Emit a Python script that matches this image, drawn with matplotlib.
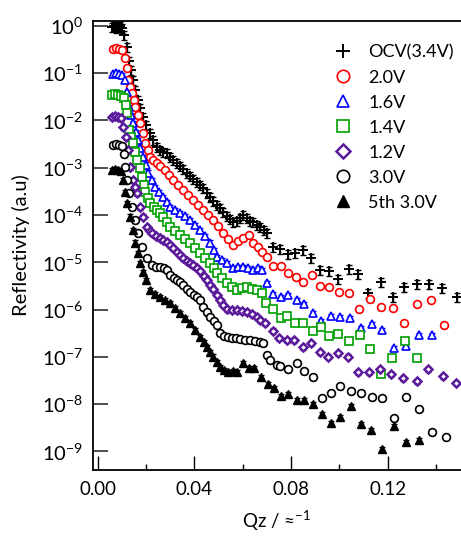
import numpy as np
from matplotlib import pyplot as plt
from matplotlib.ticker import FixedLocator, NullLocator, FuncFormatter

plt.rcParams['font.family'] = ['Lato', 'DejaVu Sans']
plt.rcParams['mathtext.fontset'] = 'custom'
plt.rcParams['mathtext.rm'] = 'Lato'
plt.rcParams['mathtext.it'] = 'Lato'

# Qz (1/A) and log10(reflectivity)
q_ocv = [0.0059, 0.0067, 0.0076, 0.0084, 0.0092, 0.0101, 0.0109, 0.0121, 0.0130, 0.0138,
         0.0146, 0.0154, 0.0167, 0.0175, 0.0187, 0.0200, 0.0216, 0.0229, 0.0245, 0.0258,
         0.0270, 0.0287, 0.0299, 0.0312, 0.0328, 0.0340, 0.0353, 0.0369, 0.0382, 0.0394,
         0.0411, 0.0423, 0.0436, 0.0452, 0.0464, 0.0477, 0.0494, 0.0506, 0.0518, 0.0535,
         0.0547, 0.0560, 0.0576, 0.0589, 0.0601, 0.0618, 0.0630, 0.0643, 0.0659, 0.0671,
         0.0688, 0.0700, 0.0725, 0.0754, 0.0787, 0.0816, 0.0850, 0.0883, 0.0920, 0.0957,
         0.0994, 0.1040, 0.1077, 0.1118, 0.1172, 0.1222, 0.1267, 0.1321, 0.1371, 0.1424,
         0.1487]
logr_ocv = [-0.03, -0.01, -0.05, -0.03, -0.01, -0.05, -0.20, -0.45, -0.75, -0.94,
            -1.15, -1.36, -1.57, -1.74, -1.93, -2.10, -2.27, -2.42, -2.56, -2.63,
            -2.67, -2.69, -2.78, -2.84, -2.90, -2.97, -3.03, -3.11, -3.18, -3.24,
            -3.31, -3.37, -3.43, -3.54, -3.62, -3.71, -3.79, -3.86, -3.94, -4.02,
            -4.09, -4.15, -4.13, -4.07, -4.00, -4.07, -4.13, -4.15, -4.21, -4.26,
            -4.32, -4.38, -4.68, -4.72, -4.83, -4.81, -4.74, -4.91, -5.17, -5.19,
            -5.36, -5.14, -5.25, -5.65, -5.42, -5.74, -5.52, -5.46, -5.46, -5.55,
            -5.74]

q_20 = [0.0063, 0.0076, 0.0088, 0.0101, 0.0113, 0.0121, 0.0125, 0.0134, 0.0142, 0.0150,
        0.0154, 0.0167, 0.0175, 0.0187, 0.0196, 0.0208, 0.0216, 0.0229, 0.0245, 0.0258,
        0.0279, 0.0295, 0.0312, 0.0332, 0.0353, 0.0374, 0.0394, 0.0415, 0.0436, 0.0456,
        0.0477, 0.0498, 0.0518, 0.0539, 0.0560, 0.0581, 0.0601, 0.0626, 0.0643, 0.0663,
        0.0680, 0.0700, 0.0725, 0.0758, 0.0787, 0.0821, 0.0850, 0.0887, 0.0920, 0.0957,
        0.0998, 0.1040, 0.1081, 0.1127, 0.1172, 0.1222, 0.1267, 0.1321, 0.1379, 0.1433]
logr_20 = [-0.49, -0.47, -0.49, -0.51, -0.68, -0.89, -1.15, -1.30, -1.42, -1.57,
           -1.72, -1.89, -2.06, -2.27, -2.48, -2.63, -2.78, -2.84, -2.90, -2.97,
           -3.05, -3.16, -3.26, -3.37, -3.47, -3.58, -3.68, -3.79, -3.90, -4.00,
           -4.11, -4.23, -4.38, -4.51, -4.64, -4.55, -4.49, -4.43, -4.59, -4.68,
           -4.78, -4.89, -5.08, -5.08, -5.23, -5.31, -5.42, -5.27, -5.50, -5.52,
           -5.63, -5.65, -5.99, -5.78, -5.95, -5.97, -6.29, -5.88, -5.80, -6.33]

q_16 = [0.0063, 0.0076, 0.0088, 0.0101, 0.0113, 0.0121, 0.0130, 0.0138, 0.0146, 0.0158,
        0.0167, 0.0175, 0.0187, 0.0200, 0.0208, 0.0225, 0.0237, 0.0254, 0.0270, 0.0287,
        0.0299, 0.0320, 0.0340, 0.0361, 0.0382, 0.0403, 0.0423, 0.0444, 0.0464, 0.0481,
        0.0494, 0.0514, 0.0535, 0.0560, 0.0581, 0.0601, 0.0622, 0.0643, 0.0663, 0.0680,
        0.0700, 0.0725, 0.0758, 0.0787, 0.0825, 0.0854, 0.0891, 0.0924, 0.0965, 0.1003,
        0.1044, 0.1089, 0.1135, 0.1176, 0.1226, 0.1276, 0.1329, 0.1383]
logr_16 = [-1.02, -1.00, -1.02, -1.04, -1.15, -1.40, -1.72, -1.89, -2.06, -2.25,
           -2.42, -2.59, -2.78, -2.94, -3.11, -3.26, -3.41, -3.52, -3.62, -3.73,
           -3.83, -3.90, -3.96, -4.02, -4.11, -4.21, -4.32, -4.45, -4.59, -4.74,
           -4.89, -4.95, -5.02, -5.12, -5.10, -5.10, -5.12, -5.17, -5.12, -5.17,
           -5.44, -5.67, -5.74, -5.69, -5.80, -5.88, -6.07, -6.24, -6.14, -6.16,
           -6.18, -6.39, -6.31, -6.43, -6.81, -6.77, -6.54, -6.54]

q_14 = [0.0059, 0.0071, 0.0084, 0.0096, 0.0109, 0.0117, 0.0121, 0.0130, 0.0138, 0.0146,
        0.0154, 0.0163, 0.0175, 0.0183, 0.0191, 0.0196, 0.0208, 0.0216, 0.0233, 0.0245,
        0.0258, 0.0270, 0.0287, 0.0299, 0.0320, 0.0340, 0.0361, 0.0382, 0.0403, 0.0423,
        0.0444, 0.0464, 0.0481, 0.0494, 0.0514, 0.0535, 0.0556, 0.0576, 0.0597, 0.0618,
        0.0639, 0.0659, 0.0680, 0.0696, 0.0725, 0.0758, 0.0783, 0.0816, 0.0850, 0.0891,
        0.0924, 0.0957, 0.0994, 0.1040, 0.1085, 0.1127, 0.1172, 0.1217, 0.1271, 0.1321]
logr_14 = [-1.47, -1.44, -1.47, -1.49, -1.53, -1.68, -1.85, -2.20, -2.35, -2.48,
           -2.67, -2.84, -3.01, -3.20, -3.37, -3.52, -3.65, -3.75, -3.83, -3.90,
           -3.96, -4.04, -4.15, -4.26, -4.34, -4.43, -4.51, -4.59, -4.70, -4.81,
           -4.91, -5.02, -5.12, -5.23, -5.33, -5.44, -5.52, -5.59, -5.55, -5.52,
           -5.57, -5.59, -5.65, -5.86, -5.99, -6.18, -6.14, -6.29, -6.29, -6.45,
           -6.37, -6.56, -6.52, -6.67, -6.54, -6.84, -7.37, -7.03, -6.67, -7.03]

q_12 = [0.0059, 0.0071, 0.0084, 0.0096, 0.0105, 0.0117, 0.0125, 0.0134, 0.0146, 0.0154,
        0.0163, 0.0175, 0.0187, 0.0204, 0.0216, 0.0225, 0.0241, 0.0258, 0.0270, 0.0287,
        0.0299, 0.0312, 0.0328, 0.0340, 0.0353, 0.0369, 0.0382, 0.0394, 0.0411, 0.0423,
        0.0440, 0.0452, 0.0464, 0.0477, 0.0494, 0.0506, 0.0518, 0.0535, 0.0556, 0.0576,
        0.0597, 0.0618, 0.0639, 0.0659, 0.0671, 0.0692, 0.0725, 0.0750, 0.0783, 0.0812,
        0.0850, 0.0883, 0.0920, 0.0953, 0.0994, 0.1036, 0.1077, 0.1123, 0.1168, 0.1213,
        0.1263, 0.1321, 0.1367, 0.1429, 0.1482]
logr_12 = [-1.93, -1.91, -1.93, -1.95, -2.14, -2.35, -2.63, -2.99, -3.26, -3.41,
           -3.54, -3.83, -4.04, -4.26, -4.34, -4.38, -4.45, -4.49, -4.53, -4.57,
           -4.64, -4.70, -4.78, -4.85, -4.91, -4.98, -5.02, -5.06, -5.12, -5.19,
           -5.29, -5.38, -5.48, -5.57, -5.69, -5.80, -5.90, -5.99, -6.01, -6.01,
           -6.03, -6.05, -6.10, -6.16, -6.22, -6.29, -6.45, -6.60, -6.65, -6.65,
           -6.79, -6.71, -6.90, -7.00, -6.92, -7.00, -7.32, -7.32, -7.26, -7.37,
           -7.45, -7.51, -7.26, -7.41, -7.55]

q_30 = [0.0063, 0.0076, 0.0088, 0.0101, 0.0109, 0.0113, 0.0121, 0.0130, 0.0142, 0.0154,
        0.0167, 0.0183, 0.0204, 0.0225, 0.0241, 0.0258, 0.0274, 0.0287, 0.0299, 0.0316,
        0.0328, 0.0340, 0.0353, 0.0369, 0.0382, 0.0398, 0.0411, 0.0423, 0.0436, 0.0452,
        0.0464, 0.0481, 0.0494, 0.0506, 0.0523, 0.0539, 0.0556, 0.0572, 0.0589, 0.0610,
        0.0630, 0.0651, 0.0671, 0.0684, 0.0700, 0.0713, 0.0742, 0.0754, 0.0787, 0.0825,
        0.0854, 0.0891, 0.0928, 0.0965, 0.1003, 0.1048, 0.1089, 0.1135, 0.1176, 0.1226,
        0.1276, 0.1329, 0.1383, 0.1441]
logr_30 = [-2.52, -2.51, -2.52, -2.54, -2.72, -2.99, -3.26, -3.54, -3.83, -4.11,
           -4.38, -4.68, -4.91, -5.06, -5.10, -5.10, -5.12, -5.17, -5.27, -5.33,
           -5.38, -5.42, -5.48, -5.57, -5.63, -5.69, -5.74, -5.80, -5.95, -6.05,
           -6.16, -6.24, -6.33, -6.50, -6.56, -6.58, -6.60, -6.60, -6.62, -6.65,
           -6.65, -6.67, -6.69, -6.71, -6.96, -7.07, -7.17, -7.19, -7.26, -7.13,
           -7.30, -7.43, -7.87, -7.77, -7.62, -7.72, -7.77, -7.85, -7.87, -8.30,
           -7.85, -8.10, -8.59, -8.70]

q_5th = [0.0059, 0.0071, 0.0084, 0.0096, 0.0105, 0.0113, 0.0121, 0.0134, 0.0146, 0.0154,
         0.0167, 0.0175, 0.0187, 0.0200, 0.0216, 0.0237, 0.0258, 0.0279, 0.0299, 0.0320,
         0.0340, 0.0361, 0.0382, 0.0403, 0.0423, 0.0440, 0.0452, 0.0464, 0.0477, 0.0494,
         0.0506, 0.0523, 0.0539, 0.0560, 0.0576, 0.0601, 0.0626, 0.0647, 0.0676, 0.0704,
         0.0729, 0.0758, 0.0787, 0.0825, 0.0854, 0.0891, 0.0928, 0.0965, 0.1003, 0.1048,
         0.1089, 0.1131, 0.1176, 0.1226, 0.1276, 0.1329]
logr_5th = [-3.05, -3.03, -3.05, -3.07, -3.26, -3.52, -3.75, -4.04, -4.32, -4.59,
            -4.81, -5.02, -5.21, -5.38, -5.59, -5.67, -5.74, -5.80, -5.86, -5.97,
            -6.07, -6.18, -6.29, -6.43, -6.58, -6.69, -6.79, -6.90, -7.00, -7.11,
            -7.22, -7.28, -7.32, -7.30, -7.32, -7.13, -7.24, -7.24, -7.43, -7.58,
            -7.66, -7.83, -7.79, -7.91, -7.91, -8.00, -8.21, -8.40, -8.27, -8.04,
            -8.42, -8.55, -8.95, -8.46, -8.80, -8.76]

labels = ['OCV(3.4V)', '2.0V', '1.6V', '1.4V', '1.2V', '3.0V', '5th 3.0V']
# relative error used for the error bars of each curve
rel_err = [0.22, 0.12, 0.12, 0.12, 0.12, 0.12, 0.12]

series = [(q_ocv, logr_ocv), (q_20, logr_20), (q_16, logr_16), (q_14, logr_14),
          (q_12, logr_12), (q_30, logr_30), (q_5th, logr_5th)]
styles = [
    dict(marker='+', color='black', mfc='black', ms=6.5, mew=1.4),
    dict(marker='o', color='#ff0000', mfc='white', ms=5.6, mew=1.2),
    dict(marker='^', color='#0000ff', mfc='white', ms=5.8, mew=1.2),
    dict(marker='s', color='#00a000', mfc='white', ms=5.2, mew=1.2),
    dict(marker='D', color='#5a1a9a', mfc='white', ms=4.4, mew=1.8),
    dict(marker='o', color='black', mfc='white', ms=5.6, mew=1.2),
    dict(marker='^', color='black', mfc='black', ms=5.8, mew=1.0),
]

fig = plt.figure(figsize=(4.61, 5.40), dpi=100)
ax = fig.add_axes([0.2011, 0.1296, 0.799, 0.8315])

for (q, lr), st, lab, re in zip(series, styles, labels, rel_err):
    q = np.array(q)
    r = 10 ** np.array(lr)
    ax.errorbar(q, r, yerr=r * re, fmt='none', ecolor=st['color'], elinewidth=1.0,
                capsize=2.5, capthick=1.0, zorder=2)
    ax.plot(q, r, ls='none', label=lab, zorder=3, **st)

ax.set_yscale('log')
ax.set_xlim(-0.00207, 0.1503)
ax.set_ylim(10 ** -9.393, 10 ** 0.0994)

ax.yaxis.set_major_locator(FixedLocator([10.0 ** k for k in range(-9, 1)]))
ax.yaxis.set_minor_locator(NullLocator())
ax.yaxis.set_major_formatter(FuncFormatter(lambda v, p: r'$\mathregular{10^{%d}}$' % round(np.log10(v))))
ax.xaxis.set_major_locator(FixedLocator([0.0, 0.04, 0.08, 0.12]))
ax.xaxis.set_minor_locator(FixedLocator([0.02, 0.06, 0.10, 0.14]))
ax.xaxis.set_major_formatter(FuncFormatter(lambda v, p: '%.2f' % v))

ax.tick_params(axis='y', which='major', direction='in', length=10.8, width=1.3,
               color='#404040', labelsize=14.5, pad=7)
ax.tick_params(axis='x', which='major', direction='in', length=10, width=1.0,
               labelsize=13.5, pad=8)
ax.tick_params(axis='x', which='minor', direction='in', length=4.5, width=1.0)

ax.spines['right'].set_visible(False)
for s in ['left', 'bottom', 'top']:
    ax.spines[s].set_linewidth(1.3)

ax.set_ylabel('Reflectivity (a.u)', fontsize=14.5, labelpad=8)
ax.set_xlabel('Qz / ≈$^{-1}$', fontsize=13.5, labelpad=8)

leg = ax.legend(loc='upper left', bbox_to_anchor=(0.63, 0.968), frameon=False,
                borderpad=0, handlelength=1.0, handletextpad=0.9, labelspacing=0.5,
                fontsize=13, markerscale=1.6)

fig.savefig('out.png', dpi=100)
